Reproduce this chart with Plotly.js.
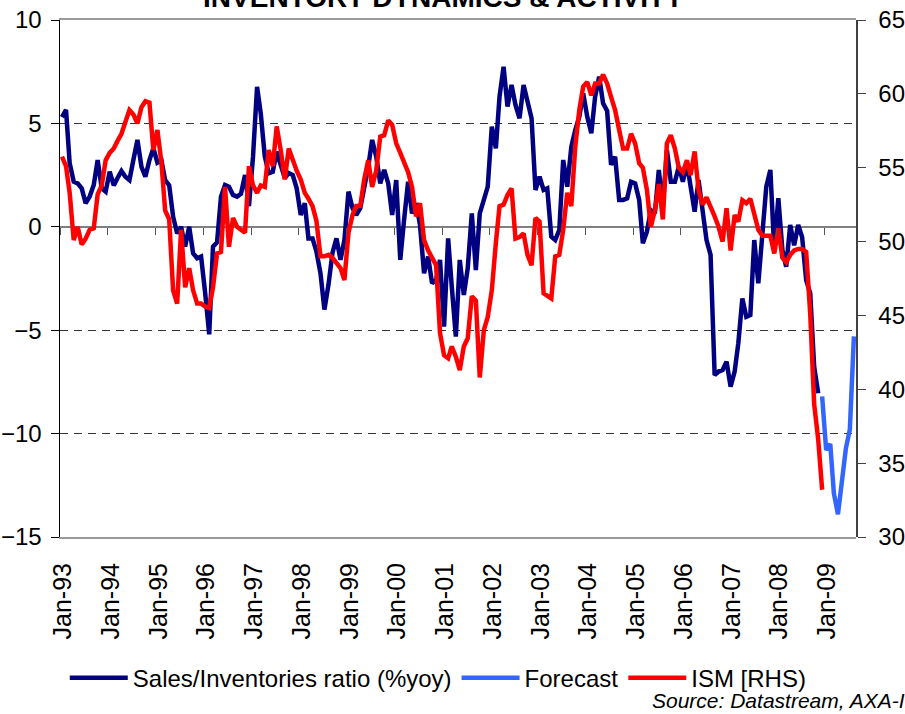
<!DOCTYPE html>
<html>
<head>
<meta charset="utf-8">
<script src="https://cdn.plot.ly/plotly-3.0.1.min.js"></script>
<style>
  html, body { margin: 0; padding: 0; background: #fff; }
  #chart { width: 905px; height: 714px; }
</style>
</head>
<body>
<div id="chart"></div>
<script>
// monthly series, first value = Jan-93
var startYear = 1993;

var salesInvRatio = [
  5.3, 5.65, 3.07, 2.18, 2.1, 1.86, 1.14, 1.46, 2.02, 3.23, 1.86, 1.7,
  2.67, 2.0, 2.35, 2.7, 2.42, 2.26, 3.23, 4.2, 2.9, 2.42, 3.23, 3.8,
  3.1, 3.2, 2.26, 2.0, 0.49, -0.32, 0, -0.96, 0, -1.28, -1.52, -1.44,
  -3.2, -5.2, -0.96, -0.75, 1.46, 2.02, 1.94, 1.54, 1.46, 1.6, 2.5, 1.0,
  3.4, 6.77, 5.49, 3.4, 2.59, 2.66, 3.63, 3.07, 2.35, 2.6, 2.5, 1.86,
  0.57, 1.14, -0.56, -0.56, -1.2, -2.25, -4.0, -2.8, -1.25, -0.56, -1.6, -0.64,
  1.7, 0.9, 0.57, 0.9, 1.78, 2.9, 4.2, 3.4, 2.1, 2.75, 2.1, 0.57,
  2.26, -1.6, 0.33, 2.18, 0.65, 1.14, 0.09, -2.25, -1.44, -2.73, -2.57, -1.6,
  -4.83, -0.56, -2.9, -5.31, -1.6, -3.3, -2.0, 0.65, -2.09, 0.65, 1.3, 1.94,
  4.84, 3.8, 6.29, 7.74, 5.81, 6.86, 5.89, 5.25, 6.86, 5.97, 5.25, 1.78,
  2.42, 1.78, 1.86, -0.48, -0.64, -0.16, 3.23, 1.94, 3.87, 4.68, 5.32, 6.45,
  5.32, 4.52, 6.29, 7.26, 5.97, 5.6, 3.0, 3.39, 1.3, 1.3, 1.38, 2.18,
  2.1, 1.3, -0.8, -0.24, 0.81, 0.65, 2.75, 0.97, 3.71, 2.18, 2.18, 2.91,
  2.18, 3.07, 2.1, 0.73, 2.26, 0.81, -0.64, -1.36, -7.17, -7.0, -6.92, -6.52,
  -7.73, -7.0, -5.63, -3.46, -4.35, -4.26, -0.64, -2.73, -0.48, 1.94, 2.75, -1.12,
  1.38, -1.12, -1.93, 0.09, -0.9, 0.09, -0.5, -2.57, -3.22, -6.76, -8.05
];

// forecast starts Dec-08
var forecastStart = 191;
var forecast = [-8.2, -10.8, -10.5, -12.9, -13.9, -12.3, -10.7, -9.8, -5.3];

var ism = [
  55.75, 55.1, 53.3, 50.1, 51.0, 49.8, 50.2, 50.8, 50.9, 53.2, 53.8, 55.5,
  56.0, 56.3, 56.8, 57.3, 58.1, 58.9, 58.6, 58.0, 59.1, 59.5, 59.4, 56.2,
  57.55, 55.3, 52.1, 51.5, 46.7, 45.8, 50.8, 46.9, 48.2, 46.7, 45.8, 45.8,
  45.6, 45.5, 46.9, 49.2, 49.3, 53.7, 49.65, 51.6, 51.0, 50.8, 50.6, 55.1,
  53.8, 53.3, 53.8, 53.7, 56.2, 55.1, 57.8, 56.2, 54.2, 56.3, 55.5, 54.8,
  54.2, 53.3, 52.9, 52.4, 51.4, 49.0, 49.0, 49.1, 48.9, 48.6, 48.2, 47.4,
  50.6, 51.8, 52.4, 52.4, 54.2, 55.5, 53.7, 54.8, 57.1, 57.2, 58.2, 57.9,
  56.65, 56.0, 55.3, 54.7, 53.7, 51.7, 52.6, 50.1, 49.4, 48.9, 48.4, 43.8,
  42.3, 42.1, 42.9, 42.2, 41.3, 42.9, 43.45, 46.3, 46.0, 40.8, 44.0, 44.9,
  46.7, 49.9, 52.4, 52.5, 53.15, 53.6, 50.2, 50.3, 50.55, 49.1, 48.4, 51.6,
  51.35, 46.5, 46.3, 46.15, 49.0, 49.1, 50.8, 53.3, 52.4, 56.4, 58.9, 60.5,
  60.8, 59.9, 60.7, 60.7, 61.3, 60.7, 59.8, 58.9, 57.55, 56.3, 56.3, 57.3,
  56.65, 55.3, 55.0, 53.5, 51.0, 52.1, 53.9, 51.5, 56.65, 57.2, 56.3, 55.0,
  54.7, 55.5, 54.5, 56.1, 53.5, 52.5, 53.0, 52.4, 51.7, 51.0, 50.0, 52.25,
  49.4, 51.8, 51.35, 52.8, 52.6, 52.9, 51.9, 50.8, 50.4, 50.4, 50.4, 49.2,
  50.9, 48.9, 48.6, 49.1, 49.4, 49.5, 49.5, 49.3, 45.1, 39.0, 36.6, 33.2
];

var seriesNames = ['Sales/Inventories ratio (%yoy)', 'Forecast', 'ISM [RHS)'];
var seriesColors = ['#000080', '#3366ff', '#ff0000'];

function monthDate(i) {
  var y = startYear + Math.floor(i / 12);
  var m = (i % 12) + 1;
  return y + '-' + (m < 10 ? '0' + m : m) + '-16';
}

function datesFrom(start, n) {
  var out = [];
  for (var i = 0; i < n; i++) out.push(monthDate(start + i));
  return out;
}

var font = 'Arial, "Liberation Sans", sans-serif';
var xRange = ['1993-01-01', '2009-09-01'];

var traces = [
  {
    x: datesFrom(0, salesInvRatio.length),
    y: salesInvRatio,
    name: seriesNames[0],
    type: 'scatter',
    mode: 'lines',
    line: { color: seriesColors[0], width: 4.5 },
    xaxis: 'x', yaxis: 'y'
  },
  {
    x: datesFrom(forecastStart, forecast.length),
    y: forecast,
    name: seriesNames[1],
    type: 'scatter',
    mode: 'lines',
    line: { color: seriesColors[1], width: 4.5 },
    xaxis: 'x', yaxis: 'y'
  },
  {
    x: datesFrom(0, ism.length),
    y: ism,
    name: seriesNames[2],
    type: 'scatter',
    mode: 'lines',
    line: { color: seriesColors[2], width: 4.5 },
    xaxis: 'x2', yaxis: 'y2'
  }
];

var layout = {
  width: 905,
  height: 714,
  margin: { l: 60, r: 49, t: 20, b: 177 },
  paper_bgcolor: '#fff',
  plot_bgcolor: '#fff',
  font: { family: font, color: '#000', size: 24 },
  title: {
    text: 'INVENTORY DYNAMICS & ACTIVITY',
    font: { family: font, size: 28, weight: 'bold', color: '#000' },
    x: 0.49, xanchor: 'center',
    yref: 'container', y: 0.9905, yanchor: 'bottom'
  },
  showlegend: true,
  legend: {
    orientation: 'h',
    x: 0.006, xanchor: 'left',
    y: -0.273, yanchor: 'middle',
    font: { family: font, size: 24, color: '#000' },
    itemwidth: 58,
    tracegroupgap: 0
  },
  xaxis: {
    type: 'date',
    range: xRange,
    tick0: '1993-01-01',
    dtick: 'M12',
    tickformat: '%b-%y',
    tickangle: -90,
    tickfont: { family: font, size: 25, color: '#000' },
    ticks: '',
    ticklabelstandoff: 14,
    ticklabelshift: 3,
    showgrid: false,
    zeroline: false,
    showline: true,
    mirror: true,
    linecolor: '#9a9a9a',
    linewidth: 2
  },
  // tick marks sit on the zero line
  xaxis2: {
    type: 'date',
    overlaying: 'x',
    matches: 'x',
    anchor: 'free',
    position: 0.6,
    side: 'bottom',
    tick0: '1993-01-01',
    dtick: 'M12',
    ticks: 'outside',
    ticklen: 7,
    tickwidth: 1,
    tickcolor: '#555',
    showticklabels: false,
    showgrid: false,
    zeroline: false,
    showline: false
  },
  yaxis: {
    range: [-15, 10],
    dtick: 5,
    tickfont: { family: font, size: 24, color: '#000' },
    ticks: 'outside',
    ticklen: 8,
    tickwidth: 1,
    tickcolor: '#000',
    ticklabelstandoff: 4,
    showline: true,
    linecolor: '#000',
    linewidth: 1.5,
    showgrid: true,
    gridcolor: '#333',
    gridwidth: 1,
    griddash: '8px,6px',
    zeroline: true,
    zerolinecolor: '#808080',
    zerolinewidth: 2
  },
  yaxis2: {
    range: [30, 65],
    dtick: 5,
    overlaying: 'y',
    side: 'right',
    anchor: 'free',
    position: 1,
    tickfont: { family: font, size: 24, color: '#000' },
    ticks: 'outside',
    ticklen: 8,
    tickwidth: 1,
    tickcolor: '#404040',
    ticklabelstandoff: 8,
    showline: true,
    linecolor: '#404040',
    linewidth: 1.5,
    showgrid: false,
    zeroline: false
  },
  annotations: [
    {
      text: 'Source: Datastream, AXA-IM',
      xref: 'paper', yref: 'paper',
      x: 0.741, xanchor: 'left',
      y: -0.317, yanchor: 'middle',
      showarrow: false,
      font: { family: font, size: 21, style: 'italic', color: '#000' }
    }
  ]
};

Plotly.newPlot('chart', traces, layout, { displayModeBar: false, staticPlot: true });
</script>
</body>
</html>
